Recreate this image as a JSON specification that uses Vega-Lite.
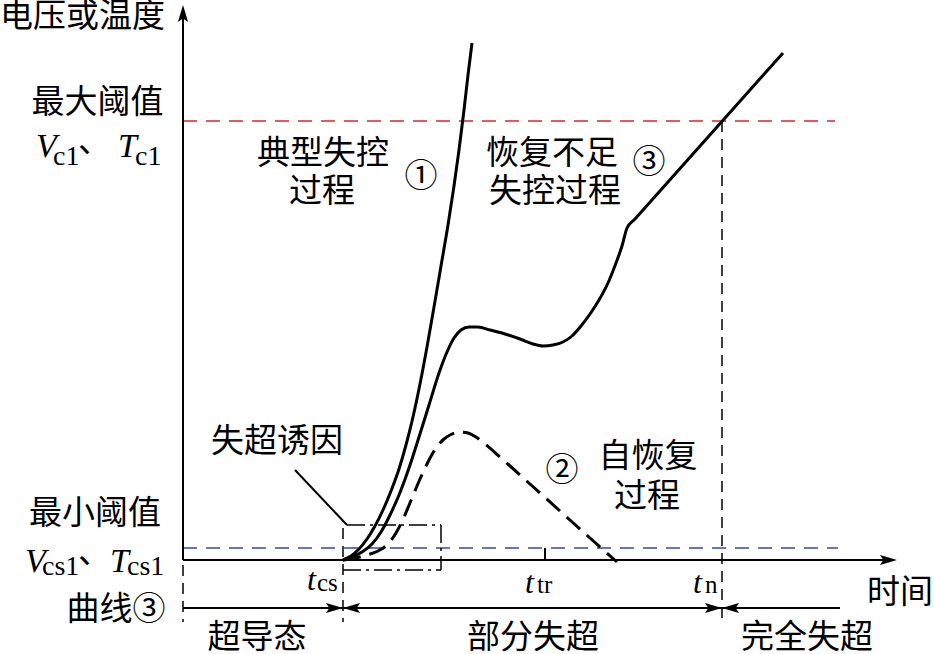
{
  "$schema": "https://vega.github.io/schema/vega-lite/v6.json",
  "width": 934,
  "height": 654,
  "autosize": {"type": "none"},
  "padding": 0,
  "background": "white",
  "config": {"view": {"stroke": null}},
  "datasets": {
    "curves": [
      {"curve": "1", "t": 160, "v": 0}, {"curve": "1", "t": 168, "v": 4}, {"curve": "1", "t": 176, "v": 11}, {"curve": "1", "t": 184, "v": 21}, {"curve": "1", "t": 192, "v": 34}, {"curve": "1", "t": 200, "v": 50}, {"curve": "1", "t": 208, "v": 69}, {"curve": "1", "t": 216, "v": 91}, {"curve": "1", "t": 223, "v": 115}, {"curve": "1", "t": 230, "v": 143}, {"curve": "1", "t": 237, "v": 176}, {"curve": "1", "t": 244, "v": 213}, {"curve": "1", "t": 251, "v": 253}, {"curve": "1", "t": 258, "v": 294}, {"curve": "1", "t": 265, "v": 335}, {"curve": "1", "t": 271, "v": 374}, {"curve": "1", "t": 276, "v": 410}, {"curve": "1", "t": 281, "v": 450}, {"curve": "1", "t": 285, "v": 485}, {"curve": "1", "t": 289, "v": 517},
      {"curve": "3", "t": 160, "v": 0}, {"curve": "3", "t": 169, "v": 3}, {"curve": "3", "t": 179, "v": 8}, {"curve": "3", "t": 189, "v": 16}, {"curve": "3", "t": 198, "v": 28}, {"curve": "3", "t": 207, "v": 45}, {"curve": "3", "t": 216, "v": 65}, {"curve": "3", "t": 226, "v": 92}, {"curve": "3", "t": 236, "v": 123}, {"curve": "3", "t": 246, "v": 155}, {"curve": "3", "t": 256, "v": 187}, {"curve": "3", "t": 264, "v": 208}, {"curve": "3", "t": 271, "v": 222}, {"curve": "3", "t": 278, "v": 230}, {"curve": "3", "t": 286, "v": 233}, {"curve": "3", "t": 295, "v": 233}, {"curve": "3", "t": 307, "v": 230}, {"curve": "3", "t": 322, "v": 226}, {"curve": "3", "t": 337, "v": 221}, {"curve": "3", "t": 350, "v": 216}, {"curve": "3", "t": 360, "v": 214}, {"curve": "3", "t": 370, "v": 215}, {"curve": "3", "t": 380, "v": 218}, {"curve": "3", "t": 389, "v": 224}, {"curve": "3", "t": 398, "v": 234}, {"curve": "3", "t": 407, "v": 246}, {"curve": "3", "t": 416, "v": 260}, {"curve": "3", "t": 425, "v": 277}, {"curve": "3", "t": 433, "v": 297}, {"curve": "3", "t": 439, "v": 314}, {"curve": "3", "t": 444, "v": 332}, {"curve": "3", "t": 452, "v": 341}, {"curve": "3", "t": 600, "v": 507}
    ],
    "curve2": [
      {"t": 160, "v": 0}, {"t": 172, "v": 2}, {"t": 184, "v": 5}, {"t": 195, "v": 9}, {"t": 205, "v": 16}, {"t": 213, "v": 27}, {"t": 221, "v": 43}, {"t": 229, "v": 62}, {"t": 237, "v": 81}, {"t": 245, "v": 98}, {"t": 253, "v": 112}, {"t": 261, "v": 121}, {"t": 269, "v": 126}, {"t": 277, "v": 128}, {"t": 285, "v": 127}, {"t": 293, "v": 123}, {"t": 301, "v": 117}, {"t": 317, "v": 103}, {"t": 347, "v": 76}, {"t": 377, "v": 49}, {"t": 407, "v": 22}, {"t": 434, "v": -2}
    ],
    "solidSegs": [
      {"t": 0, "v": 0, "t2": 0, "v2": 546},
      {"t": 0, "v": 0, "t2": 704, "v2": 0},
      {"t": 0, "v": -48, "t2": 657, "v2": -48},
      {"t": 362, "v": 0, "t2": 362, "v2": 12},
      {"t": 112, "v": 90, "t2": 164, "v2": 35}
    ],
    "dashSegs": [
      {"t": 0, "v": -5, "t2": 0, "v2": -62},
      {"t": 160, "v": 32, "t2": 160, "v2": -62},
      {"t": 539, "v": 439, "t2": 539, "v2": -62}
    ],
    "maxLine": [{"t": 0, "v": 439, "t2": 652, "v2": 439}],
    "minLine": [{"t": 0, "v": 12, "t2": 655, "v2": 12}],
    "box": [
      {"t": 164, "v": 35, "t2": 258, "v2": 35},
      {"t": 258, "v": 35, "t2": 258, "v2": -10},
      {"t": 160, "v": -10, "t2": 258, "v2": -10}
    ],
    "upHeads": [{"t": 0, "v": 555}],
    "rightHeads": [{"t": 714, "v": 0}, {"t": 160, "v": -48}, {"t": 539, "v": -48}],
    "leftHeads": [{"t": 160, "v": -48}, {"t": 539, "v": -48}],
    "cjk": [
      {"t": -100.5, "v": 543, "label": "电压或温度"},
      {"t": -85.5, "v": 457, "label": "最大阈值"},
      {"t": -88, "v": 46, "label": "最小阈值"},
      {"t": -67, "v": -50, "label": "曲线③"},
      {"t": 74, "v": -78, "label": "超导态"},
      {"t": 350, "v": -78, "label": "部分失超"},
      {"t": 624, "v": -78, "label": "完全失超"},
      {"t": 717, "v": -33, "label": "时间"},
      {"t": 140, "v": 406, "label": "典型失控"},
      {"t": 139, "v": 368, "label": "过程"},
      {"t": 238, "v": 383, "label": "①"},
      {"t": 369, "v": 406, "label": "恢复不足"},
      {"t": 372, "v": 368, "label": "失控过程"},
      {"t": 466, "v": 397, "label": "③"},
      {"t": 94, "v": 118, "label": "失超诱因"},
      {"t": 379, "v": 89, "label": "②"},
      {"t": 465, "v": 103, "label": "自恢复"},
      {"t": 464, "v": 63, "label": "过程"},
      {"t": -88.5, "v": 418, "label": "、"},
      {"t": -88.5, "v": 7, "label": "、"}
    ],
    "bigVars": [
      {"t": -147, "v": 403, "label": "V"},
      {"t": -65, "v": 403, "label": "T"},
      {"t": -158, "v": -12, "label": "V"},
      {"t": -73, "v": -12, "label": "T"}
    ],
    "bigSubs": [
      {"t": -130, "v": 395, "label": "c1"},
      {"t": -48, "v": 395, "label": "c1"},
      {"t": -141, "v": -15, "label": "cs1"},
      {"t": -56, "v": -15, "label": "cs1"}
    ],
    "timeVars": [
      {"t": 124, "v": -30, "label": "t"},
      {"t": 342, "v": -33, "label": "t"},
      {"t": 510, "v": -33, "label": "t"}
    ],
    "timeSubs": [
      {"t": 134, "v": -31, "label": "cs"},
      {"t": 354, "v": -33, "label": "tr"},
      {"t": 522, "v": -33, "label": "n"}
    ]
  },
  "encoding": {
    "x": {"field": "t", "type": "quantitative", "scale": {"domain": [-183, 751], "nice": false, "zero": false}, "axis": null},
    "y": {"field": "v", "type": "quantitative", "scale": {"domain": [-94, 560], "nice": false, "zero": false}, "axis": null}
  },
  "layer": [
    {"data": {"name": "maxLine"}, "mark": {"type": "rule", "color": "#d8262e", "strokeWidth": 1.6, "strokeDash": [14, 9]},
     "encoding": {"x2": {"field": "t2"}, "y2": {"field": "v2"}}},
    {"data": {"name": "minLine"}, "mark": {"type": "rule", "color": "#2f4f96", "strokeWidth": 1.6, "strokeDash": [14, 9]},
     "encoding": {"x2": {"field": "t2"}, "y2": {"field": "v2"}}},
    {"data": {"name": "dashSegs"}, "mark": {"type": "rule", "color": "black", "strokeWidth": 1.5, "strokeDash": [11, 7]},
     "encoding": {"x2": {"field": "t2"}, "y2": {"field": "v2"}}},
    {"data": {"name": "box"}, "mark": {"type": "rule", "color": "black", "strokeWidth": 1.5, "strokeDash": [18, 5, 3, 5]},
     "encoding": {"x2": {"field": "t2"}, "y2": {"field": "v2"}}},
    {"data": {"name": "solidSegs"}, "mark": {"type": "rule", "color": "black", "strokeWidth": 2},
     "encoding": {"x2": {"field": "t2"}, "y2": {"field": "v2"}}},
    {"data": {"name": "curves"}, "mark": {"type": "line", "color": "black", "strokeWidth": 3, "interpolate": "monotone"},
     "encoding": {"detail": {"field": "curve"}}},
    {"data": {"name": "curve2"}, "mark": {"type": "line", "color": "black", "strokeWidth": 3, "interpolate": "monotone", "strokeDash": [18, 9]},
     "encoding": {}},
    {"data": {"name": "upHeads"}, "mark": {"type": "point", "filled": true, "color": "black", "opacity": 1, "strokeWidth": 0, "size": 289, "shape": "M0,0L0.6,2L0,1.6L-0.6,2Z"}},
    {"data": {"name": "rightHeads"}, "mark": {"type": "point", "filled": true, "color": "black", "opacity": 1, "strokeWidth": 0, "size": 289, "angle": 90, "shape": "M0,0L0.6,2L0,1.6L-0.6,2Z"}},
    {"data": {"name": "leftHeads"}, "mark": {"type": "point", "filled": true, "color": "black", "opacity": 1, "strokeWidth": 0, "size": 289, "angle": 270, "shape": "M0,0L0.6,2L0,1.6L-0.6,2Z"}},
    {"data": {"name": "cjk"}, "mark": {"type": "text", "font": "Noto Sans CJK SC", "fontSize": 33, "align": "center", "baseline": "middle", "color": "black"},
     "encoding": {"text": {"field": "label"}}},
    {"data": {"name": "bigVars"}, "mark": {"type": "text", "font": "Liberation Serif", "fontStyle": "italic", "fontSize": 34, "align": "left", "baseline": "alphabetic", "color": "black"},
     "encoding": {"text": {"field": "label"}}},
    {"data": {"name": "bigSubs"}, "mark": {"type": "text", "font": "Liberation Serif", "fontSize": 28, "align": "left", "baseline": "alphabetic", "color": "black"},
     "encoding": {"text": {"field": "label"}}},
    {"data": {"name": "timeVars"}, "mark": {"type": "text", "font": "Liberation Serif", "fontStyle": "italic", "fontSize": 32, "align": "left", "baseline": "alphabetic", "color": "black"},
     "encoding": {"text": {"field": "label"}}},
    {"data": {"name": "timeSubs"}, "mark": {"type": "text", "font": "Liberation Serif", "fontSize": 25, "align": "left", "baseline": "alphabetic", "color": "black"},
     "encoding": {"text": {"field": "label"}}}
  ]
}
